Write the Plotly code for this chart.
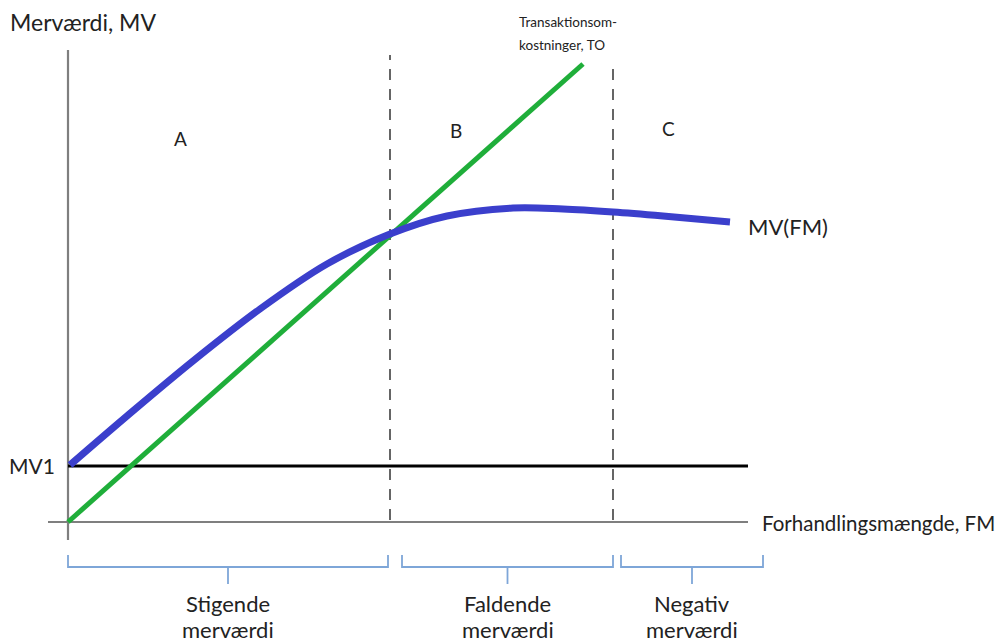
import plotly.graph_objects as go

# Data coordinates: FM along x, MV along y (origin at axis crossing)
mv_fm_x = [2, 59, 125, 192, 259, 322, 379, 445, 495, 545, 595, 662]
mv_fm_y = [57, 106, 161, 213, 258, 288, 306, 314, 313, 310, 306, 300]
to_x = [0, 515]
to_y = [0, 458]
mv1_value = 56
fm_max = 680
mv_axis_max = 472
zone_bounds = [322, 545]
zone_tops = [467, 460]
zone_labels = ["A", "B", "C"]
zone_label_pos = [(112, 384), (388, 392), (600, 394)]
brace_ranges = [(0, 320), (334, 545), (553, 695)]
brace_line1 = ["Stigende", "Faldende", "Negativ"]
brace_line2 = ["merværdi", "merværdi", "merværdi"]

grey = "#7f7f7f"
brace_col = "#7ea6d8"
text_col = "#222222"
FONT = "Lato"

fig = go.Figure()

# axes
fig.add_trace(go.Scatter(x=[0, 0], y=[-18, mv_axis_max], mode="lines",
                         line=dict(color=grey, width=2.2), hoverinfo="skip"))
fig.add_trace(go.Scatter(x=[-20, fm_max], y=[0, 0], mode="lines",
                         line=dict(color=grey, width=2.2), hoverinfo="skip"))

# dashed zone borders
for xb, t in zip(zone_bounds, zone_tops):
    fig.add_trace(go.Scatter(x=[xb, xb], y=[2, t], mode="lines",
                             line=dict(color="#555555", width=1.8, dash="11px,9px"),
                             hoverinfo="skip"))

# MV1 line
fig.add_trace(go.Scatter(x=[0, fm_max], y=[mv1_value, mv1_value], mode="lines",
                         line=dict(color="#000000", width=3), hoverinfo="skip"))

# Transaction costs
fig.add_trace(go.Scatter(x=to_x, y=to_y, mode="lines",
                         line=dict(color="#1fae3a", width=5), hoverinfo="skip"))

# MV(FM)
fig.add_trace(go.Scatter(x=mv_fm_x, y=mv_fm_y, mode="lines",
                         line=dict(color="#3b3fcc", width=7, shape="spline", smoothing=1.0),
                         hoverinfo="skip"))

# braces
for (a, b), l1, l2 in zip(brace_ranges, brace_line1, brace_line2):
    m = (a + b) / 2
    fig.add_trace(go.Scatter(x=[a, a, b, b], y=[-33, -45, -45, -33], mode="lines",
                             line=dict(color=brace_col, width=1.8), hoverinfo="skip"))
    fig.add_trace(go.Scatter(x=[m, m], y=[-45, -62], mode="lines",
                             line=dict(color=brace_col, width=1.8), hoverinfo="skip"))
    fig.add_annotation(x=m, y=-81, text=l1, showarrow=False, xanchor="center",
                       font=dict(family=FONT, size=22, color=text_col))
    fig.add_annotation(x=m, y=-107, text=l2, showarrow=False, xanchor="center",
                       font=dict(family=FONT, size=22, color=text_col))

for lab, (lx, ly) in zip(zone_labels, zone_label_pos):
    fig.add_annotation(x=lx, y=ly, text=lab, showarrow=False,
                       font=dict(family=FONT, size=19, color=text_col))

fig.add_annotation(x=-60, y=500, text="Merværdi, MV", showarrow=False, xanchor="left",
                   font=dict(family=FONT, size=23, color=text_col))
fig.add_annotation(x=449, y=500, text="Transaktionsom-", showarrow=False, xanchor="left",
                   font=dict(family=FONT, size=13.5, color=text_col))
fig.add_annotation(x=449, y=477, text="kostninger, TO", showarrow=False, xanchor="left",
                   font=dict(family=FONT, size=13.5, color=text_col))
fig.add_annotation(x=678, y=296, text="MV(FM)", showarrow=False, xanchor="left",
                   font=dict(family=FONT, size=22, color=text_col))
fig.add_annotation(x=-11, y=mv1_value + 1, text="MV1", showarrow=False, xanchor="right",
                   font=dict(family=FONT, size=21, color=text_col))
fig.add_annotation(x=692, y=-1, text="Forhandlingsmængde, FM", showarrow=False, xanchor="left",
                   font=dict(family=FONT, size=20.5, color=text_col))

# the page adds an 8px body margin, so the ranges are offset to compensate
fig.update_layout(
    width=1003, height=639,
    margin=dict(l=0, r=0, t=0, b=0),
    paper_bgcolor="white", plot_bgcolor="white",
    showlegend=False,
    xaxis=dict(range=[-60, 943], visible=False, fixedrange=True),
    yaxis=dict(range=[-125, 514], visible=False, fixedrange=True),
)

fig.write_html("out.html")
